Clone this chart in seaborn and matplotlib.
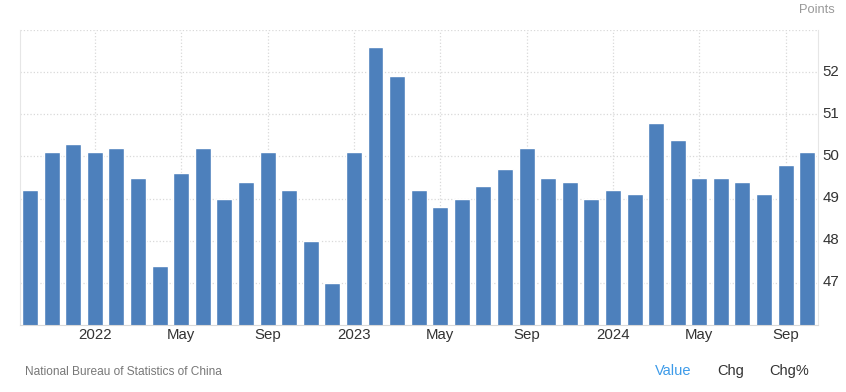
import matplotlib
matplotlib.use('Agg')
import matplotlib.pyplot as plt
import matplotlib.transforms as mtransforms
import numpy as np
import pandas as pd
import seaborn as sns

# China manufacturing PMI, Oct 2021 - Oct 2024
months = pd.date_range('2021-10-01', '2024-10-01', freq='MS').strftime('%Y-%m').tolist()
values = [49.2, 50.1, 50.3, 50.1, 50.2, 49.5, 47.4, 49.6, 50.2, 49.0, 49.4, 50.1,
          49.2, 48.0, 47.0, 50.1, 52.6, 51.9, 49.2, 48.8, 49.0, 49.3, 49.7, 50.2,
          49.5, 49.4, 49.0, 49.2, 49.1, 50.8, 50.4, 49.5, 49.5, 49.4, 49.1, 49.8, 50.1]
tick_months = ['2022-01', '2022-05', '2022-09', '2023-01', '2023-05', '2023-09',
               '2024-01', '2024-05', '2024-09']
tick_labels = ['2022', 'May', 'Sep', '2023', 'May', 'Sep', '2024', 'May', 'Sep']
y_ticks = [47, 48, 49, 50, 51, 52]

sns.set_style('white')
plt.rcParams['font.family'] = ['Liberation Sans', 'DejaVu Sans']

df = pd.DataFrame({'month': months, 'value': values})

fig = plt.figure(figsize=(8.46, 3.92), dpi=100)
ax = fig.add_axes([20 / 846, 67 / 392, 798 / 846, 295 / 392])

sns.barplot(data=df, x='month', y='value', color='#4d80bc', saturation=1,
            width=0.74, ax=ax, zorder=2)

ax.set_ylim(46, 53)
ax.set_xlim(-0.47, len(months) - 0.5)
ax.set_xlabel('')
ax.set_ylabel('')

ax.set_xticks([months.index(m) for m in tick_months])
ax.set_xticklabels(tick_labels, fontsize=10.8, color='#333333')
ax.set_yticks(y_ticks + [53])
ax.set_yticklabels([str(t) for t in y_ticks] + [''], fontsize=10.8, color='#333333')
ax.yaxis.tick_right()
ax.tick_params(axis='both', length=0)
ax.tick_params(axis='x', pad=2)
ax.tick_params(axis='y', pad=3)

# nudge the y labels up a little, like the source chart
shift = mtransforms.ScaledTranslation(0, 2 / 100, fig.dpi_scale_trans)
for lab in ax.get_yticklabels():
    lab.set_transform(lab.get_transform() + shift)

ax.grid(True, linestyle=':', color='#d9d9d9', linewidth=0.9, zorder=0)
ax.set_axisbelow(True)
for side in ['left', 'right']:
    ax.spines[side].set_color('#e6e6e6')
ax.spines['bottom'].set_color('#d9d9d9')
ax.spines['top'].set_visible(False)

fig.text(835 / 846, 1 - 10 / 392, 'Points', ha='right', va='center', fontsize=9.3, color='#999999')
fig.text(25 / 846, 1 - 372 / 392, 'National Bureau of Statistics of China', ha='left', va='center',
         fontsize=8.6, color='#777777')
fig.text(673 / 846, 1 - 371 / 392, 'Value', ha='center', va='center', fontsize=10.5, color='#3d9be9')
fig.text(731 / 846, 1 - 371 / 392, 'Chg', ha='center', va='center', fontsize=10.5, color='#333333')
fig.text(789 / 846, 1 - 371 / 392, 'Chg%', ha='center', va='center', fontsize=10.5, color='#333333')

fig.savefig('out.png', dpi=100)
